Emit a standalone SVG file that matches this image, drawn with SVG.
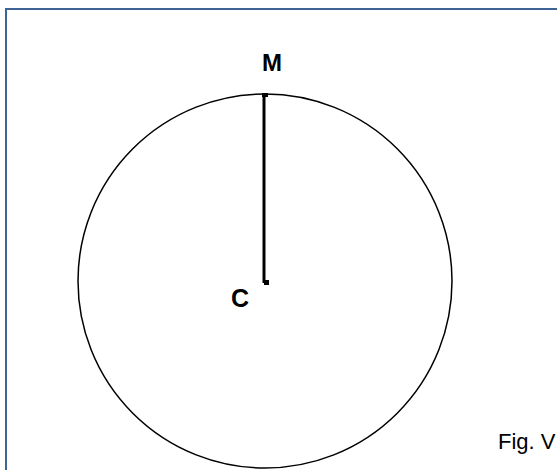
<svg xmlns="http://www.w3.org/2000/svg" width="557" height="470" viewBox="0 0 557 470">
<style>
.lbl{font-family:"Liberation Sans",Arial,sans-serif;fill:#000}
.b{font-weight:bold}
</style>
<rect width="557" height="470" fill="#fff"/>
<rect id="frame" x="6" y="9" width="560" height="480" fill="none" stroke="#3d6494" stroke-width="2"/>
<g id="circle"><circle cx="265" cy="281" r="187" fill="none" stroke="#000" stroke-width="1.5"/></g>
<g id="connectors">
<line x1="264" y1="96" x2="264" y2="283" stroke="#000" stroke-width="3"/>
<rect x="262" y="93" width="6" height="4" fill="#000"/>
<rect x="264" y="280" width="5" height="5" fill="#000"/>
</g>
<g id="M"><text class="lbl b" x="272" y="70.5" font-size="24" text-anchor="middle">M</text></g>
<g id="C"><text class="lbl b" x="240" y="307" font-size="25" text-anchor="middle">C</text></g>
<g id="fig"><text class="lbl" x="498" y="449" font-size="22">Fig. V</text></g>
</svg>
